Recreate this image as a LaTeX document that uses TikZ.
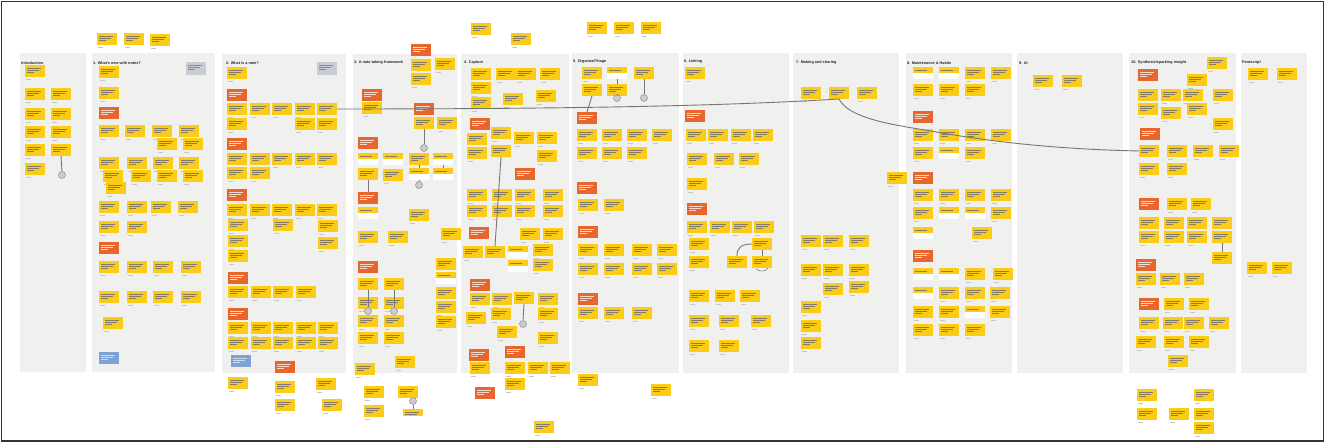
\documentclass[tikz,border=0pt]{standalone}
\usepackage{fontspec}
\setmainfont{Liberation Sans}
\definecolor{panel}{RGB}{240,240,238}
\definecolor{stickY}{RGB}{250,204,24}
\definecolor{stickO}{RGB}{232,101,45}
\definecolor{stickG}{RGB}{200,204,212}
\definecolor{stickB}{RGB}{124,163,214}
\definecolor{ink}{RGB}{80,66,30}
\definecolor{wire}{RGB}{118,118,118}
\tikzset{
  board/.style={fill=panel, draw=none},
  note/.style={minimum width=20pt, minimum height=12pt, inner sep=0pt, outer sep=0pt, anchor=north west, draw=none},
  scribble/.style={path picture={
      \draw[#1, line width=0.45pt]
        ([xshift=2pt,yshift=-2.8pt]path picture bounding box.north west) -- ++(14pt,0)
        ([xshift=2pt,yshift=-4.9pt]path picture bounding box.north west) -- ++(12pt,0)
        ([xshift=2pt,yshift=-7.0pt]path picture bounding box.north west) -- ++(7pt,0);}},
  yel/.style={note, fill=stickY, scribble=ink!70},
  ora/.style={note, fill=stickO, scribble=white!75!stickO},
  gry/.style={note, fill=stickG, minimum height=13pt, scribble=black!45},
  blu/.style={note, fill=stickB, scribble=white!60!stickB},
  half/.style={note, fill=white, path picture={
      \fill[stickY] (path picture bounding box.north west) rectangle ([yshift=-6pt]path picture bounding box.north east);
      \draw[ink!70, line width=0.45pt] ([xshift=2pt,yshift=-3pt]path picture bounding box.north west) -- ++(12pt,0);}},
  head/.style={anchor=west, inner sep=0pt, font=\fontsize{3.8}{4.5}\selectfont\bfseries, text=black!85},
  wirel/.style={draw=wire, line width=0.9pt},
  pin/.style={circle, fill=black!20, draw=black!40, line width=0.6pt, minimum size=7pt, inner sep=0pt},
  tag/.style={draw=black!22, line width=0.5pt},
}
% yellow notes with a small author tag underneath
\newcommand\yellows[2]{\foreach \x/\y [count=\i] in {#2} {%
    \draw[tag] (\x+1,\y+14.6) -- ++(5pt,0);
    \node[yel] (#1-\i) at (\x,\y) {};}}
% notes of any other kind
\newcommand\others[3]{\foreach \x/\y [count=\i] in {#3} {\node[#1] (#2-\i) at (\x,\y) {};}}

\begin{document}
\begin{tikzpicture}[x=1pt,y=-1pt]
\useasboundingbox (0,0) rectangle (1326,443);
\fill[white] (0,0) rectangle (1326,443);

% ---------- section boards ----------
\fill[board] (20,53) rectangle (86,372);
\fill[board] (92,53) rectangle (215,372);
\fill[board] (222,54) rectangle (346,373);
\fill[board] (353,54) rectangle (457,373);
\fill[board] (461,54) rectangle (569,373);
\fill[board] (572,53) rectangle (679,373);
\fill[board] (683,53) rectangle (789,373);
\fill[board] (793,53) rectangle (899,373);
\fill[board] (906,53) rectangle (1012,373);
\fill[board] (1017,53) rectangle (1123,373);
\fill[board] (1129,53) rectangle (1236,373);
\fill[board] (1241,53) rectangle (1307,373);

% ---------- section titles ----------
\node[head] (h0) at (21,63) {Introduction};
\node[head] (h1) at (93,63) {1. What's new with notes?};
\node[head] (h2) at (226,63) {2. What is a note?};
\node[head] (h3) at (354,63) {3. A note-taking framework};
\node[head] (h4) at (464,63) {4. Capture};
\node[head] (h5) at (573,62) {5. Organize/Triage};
\node[head] (h6) at (684,62) {6. Linking};
\node[head] (h7) at (796,63) {7. Making and sharing};
\node[head] (h8) at (907,63) {8. Maintenance \& Habits};
\node[head] (h9) at (1019,63) {9. AI};
\node[head] (h10) at (1131,63) {10. Synthesis/sparking insight};
\node[head] (h11) at (1242,63) {Postscript};

% ---------- loose notes above the boards ----------
\yellows{t}{97/33, 124/33, 150/34, 471/23, 511/33, 411/59, 411/73, 435/58, 587/22, 614/22, 641/22}
\others{ora}{to}{411/44}

% ---------- Introduction ----------
\yellows{i}{25/65, 25/88, 51/88, 25/108, 51/108, 25/126, 51/126, 25/144, 25/163}
\node[yel] (iA) at (51,144) {};

% ---------- 1 ----------
\yellows{a}{99/66, 99/87, 99/125, 125/125, 152/125, 179/125, 157/138, 183/138, 99/157, 127/157, 153/157, 179/157, 103/170, 131/170, 157/170, 183/170, 106/182, 99/201, 127/201, 151/201, 178/201, 99/221, 127/221, 99/261, 127/261, 153/261, 181/261, 99/291, 127/291, 153/291, 181/291, 103/317}
\others{ora}{ao}{99/107, 99/242}
\others{gry}{ag}{186/62}
\others{blu}{ab}{99/352}

% ---------- 2 ----------
\yellows{b}{227/67, 227/103, 250/103, 272/103, 295/103, 227/118, 295/118, 317/118, 227/153, 250/153, 272/153, 295/153, 317/153, 227/167, 250/167, 227/204, 250/204, 272/204, 295/204, 317/204, 228/219, 273/219, 318/220, 228/235, 318/237, 228/250, 228/286, 251/286, 273/286, 296/286, 228/322, 251/322, 273/322, 296/322, 318/322, 228/337, 251/337, 273/337, 296/337, 318/337, 228/377, 275/381, 275/399, 316/378, 322/399}
\node[yel] (c2L) at (317,103) {};
\others{ora}{bo}{227/89, 227/138, 227/189, 228/272, 228/308, 275/361}
\others{gry}{bg}{317/62}
\others{blu}{bb}{231/355}

% ---------- 3 ----------
\yellows{c}{362/102, 437/117, 383/169, 409/209, 358/231, 388/231, 358/297, 384/297, 358/315, 384/315, 358/332, 384/332, 395/356, 436/258, 436/287, 436/301, 436/316, 441/228, 355/363, 364/386, 364/405}
\others{half}{ch}{358/153, 383/153, 358/207, 436/272}
\others{ora}{co}{362/89, 358/137, 358/261}
\node[ora] (c3Oa) at (414,103) {};
\node[yel] (c3A) at (414,117) {};
\node[yel] (c3D) at (409,153) {};
\node[half] (c3C) at (409,168) {};
\node[half] (c3J) at (433,153) {};
\node[half] (c3K) at (433,168) {};
\node[yel] (c3B) at (358,168) {};
\node[ora] (c3O) at (358,192) {};
\node[yel] (c3E) at (358,278) {};
\node[yel] (c3G) at (384,278) {};
\node[yel] (c3H) at (398,386) {};
\node[yel, minimum height=7pt] (c3I) at (403,409) {};
\node[pin] (c3P1) at (424,148) {};
\node[pin] (c3P2) at (419,185) {};
\node[pin] (c3P3) at (368,311) {};
\node[pin] (c3P4) at (394,311) {};
\node[pin] (c3P5) at (413,401) {};
\draw[wirel] (c3A.south) -- (c3P1.north);
\draw[wirel] (c3D.south) -- (c3C.north);
\draw[wirel] (c3J.south) -- (c3K.north);
\draw[wirel] (c3C.south) -- (c3P2.north);
\draw[wirel] (c3B.south) -- (c3O.north);
\draw[wirel] (c3E.south) -- (c3P3.north);
\draw[wirel] (c3G.south) -- (c3P4.north);
\draw[wirel] (c3P5.south) -- (c3I.north);

% ---------- 4 ----------
\yellows{d}{471/68, 496/68, 516/68, 540/68, 471/82, 471/97, 503/93, 536/90, 467/133, 467/147, 491/127, 514/132, 537/132, 537/150, 467/189, 492/189, 515/189, 543/189, 467/205, 492/205, 515/205, 543/205, 520/228, 543/228, 463/246, 533/244, 533/259, 470/293, 492/293, 538/293, 491/308, 466/312, 538/308, 497/326, 538/332, 470/362, 505/362, 528/362, 550/362, 505/378, 534/421}
\others{half}{dh}{508/246, 508/260}
\others{ora}{do}{470/118, 515/168, 469/227, 470/279, 469/349, 505/346, 475/387}
\node[yel] (c4A) at (491,145) {};
\node[yel] (c4B) at (485,246) {};
\node[yel] (c4C) at (514,292) {};
\node[pin] (c4P) at (523,324) {};
\draw[wirel] (c4A.south) -- (c4B.north);
\draw[wirel] (c4C.south) -- (c4P.north);

% ---------- 5 ----------
\yellows{e}{582/67, 577/129, 602/129, 627/129, 652/129, 577/147, 602/147, 627/147, 578/199, 604/199, 578/244, 604/244, 632/244, 657/244, 578/263, 604/263, 632/263, 657/263, 578/307, 604/307, 632/307, 578/374, 651/384}
\others{ora}{eo}{577/182, 578/226, 578/293}
\node[half] (c5B) at (607,67) {};
\node[yel] (c5C) at (607,84) {};
\node[yel] (c5D) at (634,67) {};
\node[yel] (c5A) at (582,84) {};
\node[ora] (c5O) at (577,112) {};
\node[pin] (c5P1) at (617,98) {};
\node[pin] (c5P2) at (644,98) {};
\draw[wirel] (c5B.south) -- (c5C.north);
\draw[wirel] (c5D.south) -- (c5P2.north);

% ---------- 6 ----------
\yellows{f}{685/67, 686/129, 708/129, 731/129, 753/129, 687/153, 714/153, 739/153, 687/178, 687/221, 710/221, 732/221, 754/221, 689/238, 689/256, 689/290, 715/290, 740/290, 689/315, 719/315, 751/315, 689/340, 719/340}
\others{ora}{fo}{685/110, 687/203}
\node[yel] (c6A) at (727,256) {};
\node[yel] (c6B) at (752,238) {};
\node[yel] (c6C) at (752,256) {};
\draw[wirel] (c6A.north) .. controls (737,247) and (742,244) .. (c6B.west);
\draw[wirel] (c6B.south) -- (c6C.north);
\draw[draw=wire, line width=0.5pt] (756,269) .. controls (760,272) and (766,272) .. (768,268);

% ---------- 7 ----------
\yellows{g}{801/87, 857/87, 801/235, 823/235, 849/235, 801/264, 823/264, 849/264, 823/283, 849/281, 801/301, 801/320, 801/337, 887/172}
\node[yel] (c7L) at (829,87) {};

% ---------- 8 ----------
\yellows{h}{965/67, 991/67, 913/84, 939/84, 965/84, 913/129, 939/129, 965/129, 991/129, 913/147, 965/147, 913/189, 939/189, 965/189, 991/189, 913/207, 991/207, 972/227, 965/268, 993/268, 939/287, 965/287, 990/287, 913/306, 939/306, 990/306, 913/324, 939/324, 965/324}
\others{half}{hh}{913/67, 939/67, 939/147, 939/207, 965/207, 913/227, 913/268, 939/268, 913/287, 965/306}
\others{ora}{ho}{913/111, 913/172, 913/250}

% ---------- 9 ----------
\yellows{k}{1033/75, 1062/75}

% ---------- 10 ----------
\yellows{m}{1207/57, 1187/74, 1138/89, 1161/89, 1183/89, 1213/89, 1138/103, 1161/107, 1187/103, 1213/118, 1167/145, 1193/145, 1219/145, 1139/163, 1167/163, 1167/198, 1191/198, 1139/217, 1164/217, 1187/217, 1212/217, 1139/231, 1164/231, 1187/231, 1136/273, 1160/273, 1184/273, 1164/298, 1189/298, 1139/317, 1163/317, 1184/317, 1209/317, 1136/336, 1164/336, 1189/336, 1168/355, 1137/389, 1137/408, 1169/408, 1194/389, 1194/408, 1194/422}
\others{ora}{mo}{1138/69, 1140/128, 1139/198, 1136/259, 1139/298}
\node[yel] (c10L) at (1139,145) {};
\node[yel] (c10A) at (1212,231) {};
\node[yel] (c10B) at (1212,252) {};
\draw[wirel] (c10A.south) -- (c10B.north);

% ---------- Postscript ----------
\yellows{n}{1248/68, 1277/68, 1247/262, 1272/262}

% ---------- remaining connectors ----------
\node[pin] (iP) at (62,175) {};
\draw[wirel] (iA.south) -- (iP.north);
\draw[wirel] (c5A.south) -- (c5O.north);
\draw[wirel] (c5C.south) -- (c5P1.north);
\draw[wirel] (c2L.east) .. controls (600,109) and (740,105) .. (c7L.south);
\draw[wirel] (c7L.south) .. controls (848,116) and (880,123) .. (925,130)
   .. controls (985,141) and (1050,149) .. (c10L.west);

% ---------- frame ----------
\draw[line width=1.6pt, black!80] (1.5,1.5) rectangle (1323.5,441);
\end{tikzpicture}
\end{document}
